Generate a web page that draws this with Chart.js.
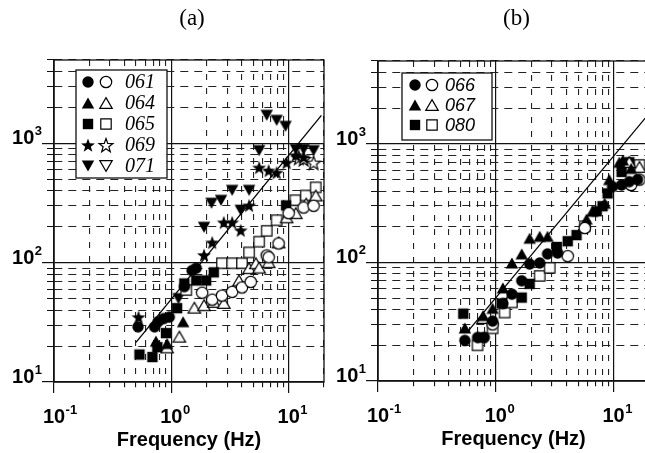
<!DOCTYPE html>
<html>
<head>
<meta charset="utf-8">
<script src="https://cdn.jsdelivr.net/npm/chart.js@4.4.1/dist/chart.umd.min.js"></script>
<style>
  html, body { margin: 0; padding: 0; background: #fff; overflow: hidden; }
  #wrap { position: relative; width: 645px; height: 453px; overflow: hidden; }
  canvas { position: absolute; top: 0; }
  #panel-a { left: 0; }
  #panel-b { left: 330px; }
</style>
</head>
<body>
<div id="wrap">
  <canvas id="panel-a" width="330" height="453"></canvas>
  <canvas id="panel-b" width="325" height="453"></canvas>
</div>
<script>
// ---- data: [frequency (Hz), value] ----
// panel (a)
const a061Solid = [[0.52,29],[0.72,29],[0.77,32],[0.86,34],[0.96,35],[1.29,63],[1.5,86],[1.63,90]];
const a061Open  = [[1.83,56],[2.23,49],[2.7,53],[3.3,57],[4.0,62],[4.75,69],[6.5,115],[6.75,111],[8.2,145],[10,260],[13.4,290],[16.3,300]];
const a064Solid = [[0.74,22],[0.92,21],[1.26,32]];
const a064Open  = [[0.92,19.5],[1.17,24],[1.57,42],[1.9,44],[2.3,47],[2.8,46],[3.77,71],[4.6,90],[5.25,99],[5.6,91],[6.75,101],[8.2,148],[9.6,240],[11.5,260],[14.1,313],[17,366]];
const a065Solid = [[0.535,17],[0.69,16.2],[0.76,19.6],[0.9,25.7],[1.12,41.6],[1.29,67],[1.63,71],[1.98,71],[2.3,83],[9.5,302]];
const a065Open  = [[1.34,59],[2.7,99],[3.3,99],[4.0,99],[4.6,122],[5.6,150],[6.5,185],[7.9,227],[11.4,334],[14,366],[17,428]];
const a069Solid = [[0.525,35],[1.9,116],[2.23,148],[2.8,218],[3.3,218],[3.9,187],[4.6,302],[5.6,628],[6.75,593],[7.9,570],[9.6,690],[11.5,795],[13.4,766]];
const a069Open  = [[12.2,760],[13.4,740],[16.3,690]];
const a071Solid = [[1.15,50],[1.9,198],[2.2,315],[2.65,333],[3.3,404],[3.9,275],[4.6,404],[5.6,870],[6.5,1720],[7.9,1560],[9.4,1390],[11.5,890],[13.4,890],[16.3,870]];
const a071Open  = [];
const fitA = [[0.5,21.5],[19,1720]];

// panel (b)
const b066Solid = [[0.546,22],[0.7,23.3],[0.8,23.3],[0.94,32],[1.15,45],[1.37,54],[1.66,70],[1.94,97],[2.36,99],[2.75,118],[3.35,120],[9.8,435],[11.7,450],[13.6,480],[16,500]];
const b066Open  = [[0.94,30],[4.08,113],[5.7,195],[14.1,450],[16.6,500]];
const b067Solid = [[0.546,28],[0.78,35.6],[0.94,41],[1.15,61],[1.37,99],[1.66,118],[1.94,160],[2.36,166],[2.75,166],[5.9,232],[6.6,270],[8.4,316],[9.2,500],[11.2,700],[12,730],[14.1,620]];
const b067Open  = [[0.78,34],[13.6,703],[16.6,640]];
const b080Solid = [[0.53,37],[0.76,23.3],[1.12,45],[1.66,50.5],[1.94,66],[3.3,135],[4.08,151],[4.85,170],[7.2,270],[8.06,298],[8.9,382],[11.7,580],[13.6,700]];
const b080Open  = [[0.7,20],[0.94,27.8],[1.19,37.8],[1.37,46],[2.36,77],[2.87,90],[5.7,202],[16.6,665]];
const fitB = [[0.57,25.7],[20,1800]];

const legendA = ['061', '064', '065', '069', '071'];
const legendB = ['066', '067', '080'];

// axes
const xMin = 0.1, xMax = 20, yMin = 10, yMax = 5000;
const xDecades = [0.1, 1, 10];
const xExp = ['-1', '0', '1'];
const yDecades = [10, 100, 1000];
const yExp = ['1', '2', '3'];
const mantissas = [1, 2, 3, 4, 5, 6, 7, 8, 9];

const SANS = '"Liberation Sans", Arial, Helvetica, sans-serif';
const SERIF = '"Liberation Serif", "Times New Roman", serif';

function isMajor(v) {
  const l = Math.log10(v);
  return Math.abs(l - Math.round(l)) < 1e-9;
}

function logTicks(min, max) {
  const out = [];
  for (let e = Math.floor(Math.log10(min)); e <= Math.ceil(Math.log10(max)); e++) {
    mantissas.forEach(m => {
      const v = +(m * Math.pow(10, e)).toPrecision(6);
      if (v >= min - 1e-9 && v <= max + 1e-9) out.push({value: v});
    });
  }
  return out;
}

// marker images
function makeMarker(shape, solid) {
  const s = 18;
  const c = document.createElement('canvas');
  c.width = s; c.height = s;
  const g = c.getContext('2d');
  g.translate(s / 2, s / 2);
  g.beginPath();
  if (shape === 'circle') {
    g.arc(0, 0, 5.7, 0, Math.PI * 2);
  } else if (shape === 'square') {
    g.rect(-5.2, -5.2, 10.4, 10.4);
  } else if (shape === 'triangle' || shape === 'down') {
    const R = 7.2, flip = shape === 'down' ? -1 : 1;
    for (let k = 0; k < 3; k++) {
      const a = -Math.PI / 2 + k * 2 * Math.PI / 3;
      g.lineTo(R * Math.cos(a), flip * (R * Math.sin(a) + 1.8));
    }
    g.closePath();
  } else if (shape === 'star') {
    for (let k = 0; k < 10; k++) {
      const r = k % 2 ? 3.0 : 7.3;
      const a = -Math.PI / 2 + k * Math.PI / 5;
      g.lineTo(r * Math.cos(a), r * Math.sin(a) + 0.8);
    }
    g.closePath();
  }
  if (solid) {
    g.fillStyle = '#000'; g.fill();
  } else {
    g.fillStyle = '#fff'; g.fill();
    g.lineWidth = 1.2; g.strokeStyle = '#000'; g.stroke();
  }
  return c;
}

const toXY = arr => arr.map(p => ({x: p[0], y: p[1]}));

function pointSet(data, shape, solid) {
  return {
    data: toXY(data),
    pointStyle: makeMarker(shape, solid),
    pointRadius: 5,
    showLine: false
  };
}

function fitSet(data) {
  return {
    data: toXY(data),
    showLine: true,
    borderColor: '#000',
    borderWidth: 1.3,
    pointRadius: 0
  };
}

// labels, frame, panel title and legend
const decor = {
  id: 'decor',
  afterDraw(chart, args, o) {
    const {ctx, chartArea: ca} = chart;
    const xs = chart.scales.x, ys = chart.scales.y;
    ctx.save();
    ctx.strokeStyle = '#111';
    ctx.lineWidth = 1.3;
    ctx.strokeRect(ca.left, ca.top, ca.right - ca.left, ca.bottom - ca.top);

    ctx.fillStyle = '#000';
    ctx.textBaseline = 'alphabetic';
    xDecades.forEach((v, i) => {
      const px = xs.getPixelForValue(v);
      ctx.font = 'bold 20px ' + SANS;
      ctx.textAlign = 'center';
      const w = ctx.measureText('10').width;
      ctx.fillText('10', px, ca.bottom + 41);
      ctx.font = 'bold 13px ' + SANS;
      ctx.textAlign = 'left';
      ctx.fillText(xExp[i], px + w / 2 + 0.5, ca.bottom + 32);
    });
    yDecades.forEach((v, i) => {
      const py = ys.getPixelForValue(v);
      const right = ca.left - 12;
      ctx.font = 'bold 13px ' + SANS;
      ctx.textAlign = 'right';
      const ew = ctx.measureText(yExp[i]).width;
      ctx.fillText(yExp[i], right, py - 8);
      ctx.font = 'bold 20px ' + SANS;
      ctx.fillText('10', right - ew - 0.5, py + 1);
    });

    ctx.font = '23px ' + SERIF;
    ctx.textAlign = 'center';
    ctx.fillText(o.title, (ca.left + ca.right) / 2 + 3, 25);

    const L = o.legend;
    const bx = ca.left + L.dx, by = ca.top + L.dy;
    ctx.fillStyle = '#fff';
    ctx.fillRect(bx, by, L.w, L.h);
    ctx.strokeStyle = '#111';
    ctx.lineWidth = 1.3;
    ctx.strokeRect(bx, by, L.w, L.h);
    ctx.fillStyle = '#000';
    ctx.font = L.font;
    ctx.textAlign = 'left';
    ctx.textBaseline = 'middle';
    L.labels.forEach((lab, i) => {
      const cy = by + L.row0 + L.step * i;
      const m1 = makeMarker(L.shapes[i], true), m2 = makeMarker(L.shapes[i], false);
      ctx.drawImage(m1, bx + L.c1 - 9, cy - 9);
      ctx.drawImage(m2, bx + L.c2 - 9, cy - 9);
      ctx.fillText(lab, bx + L.tx, cy + 1);
    });
    ctx.restore();
  }
};

function makeChart(id, datasets, pad, title, legend) {
  return new Chart(document.getElementById(id), {
    type: 'scatter',
    data: {datasets},
    plugins: [decor],
    options: {
      responsive: false,
      animation: false,
      devicePixelRatio: 1,
      layout: {padding: pad},
      plugins: {
        legend: {display: false},
        tooltip: {enabled: false},
        decor: {title, legend}
      },
      scales: {
        x: {
          type: 'logarithmic',
          min: xMin, max: xMax,
          afterBuildTicks: s => { s.ticks = logTicks(xMin, xMax); },
          ticks: {display: false},
          grid: {
            color: c => (c.tick && isMajor(c.tick.value)) ? '#111' : '#222',
            lineWidth: c => (c.tick && isMajor(c.tick.value)) ? 1.2 : 1.1,
            tickLength: 11,
            tickColor: '#111',
            tickBorderDash: c => (c.tick && !isMajor(c.tick.value)) ? [5, 100] : []
          },
          border: {
            display: true, color: '#111', width: 1.3,
            dash: c => (c.tick && !isMajor(c.tick.value)) ? [6, 8] : []
          },
          title: {
            display: true,
            text: 'Frequency (Hz)',
            color: '#000',
            font: {family: SANS, size: 20, weight: 'bold'},
            padding: {top: 35, bottom: 0}
          }
        },
        y: {
          type: 'logarithmic',
          min: yMin, max: yMax,
          afterBuildTicks: s => { s.ticks = logTicks(yMin, yMax); },
          ticks: {display: false},
          grid: {
            color: c => (c.tick && isMajor(c.tick.value)) ? '#111' : '#222',
            lineWidth: c => (c.tick && isMajor(c.tick.value)) ? 1.2 : 1.1,
            tickLength: 12,
            tickColor: '#111',
            tickBorderDash: c => (c.tick && !isMajor(c.tick.value)) ? [0, 5, 7, 100] : []
          },
          border: {
            display: true, color: '#111', width: 1.3,
            dash: c => (c.tick && !isMajor(c.tick.value)) ? [8, 6] : []
          }
        }
      }
    }
  });
}

makeChart('panel-a', [
  pointSet(a061Solid, 'circle', true), pointSet(a061Open, 'circle', false),
  pointSet(a064Solid, 'triangle', true), pointSet(a064Open, 'triangle', false),
  pointSet(a065Solid, 'square', true), pointSet(a065Open, 'square', false),
  pointSet(a069Solid, 'star', true), pointSet(a069Open, 'star', false),
  pointSet(a071Solid, 'down', true), pointSet(a071Open, 'down', false),
  fitSet(fitA)
], {left: 42, right: 5, top: 60, bottom: 1}, '(a)', {
  dx: 22, dy: 10, w: 91, h: 108, row0: 12, step: 21, c1: 12, c2: 30, tx: 49,
  font: 'italic 20px ' + SERIF, labels: legendA,
  shapes: ['circle', 'triangle', 'square', 'star', 'down']
});

makeChart('panel-b', [
  pointSet(b066Solid, 'circle', true), pointSet(b066Open, 'circle', false),
  pointSet(b067Solid, 'triangle', true), pointSet(b067Open, 'triangle', false),
  pointSet(b080Solid, 'square', true), pointSet(b080Open, 'square', false),
  fitSet(fitB)
], {left: 36, right: 5, top: 61, bottom: 2}, '(b)', {
  dx: 24, dy: 12, w: 90, h: 67, row0: 12, step: 20, c1: 13, c2: 30, tx: 43,
  font: 'italic 18px ' + SANS, labels: legendB,
  shapes: ['circle', 'triangle', 'square']
});
</script>
</body>
</html>
